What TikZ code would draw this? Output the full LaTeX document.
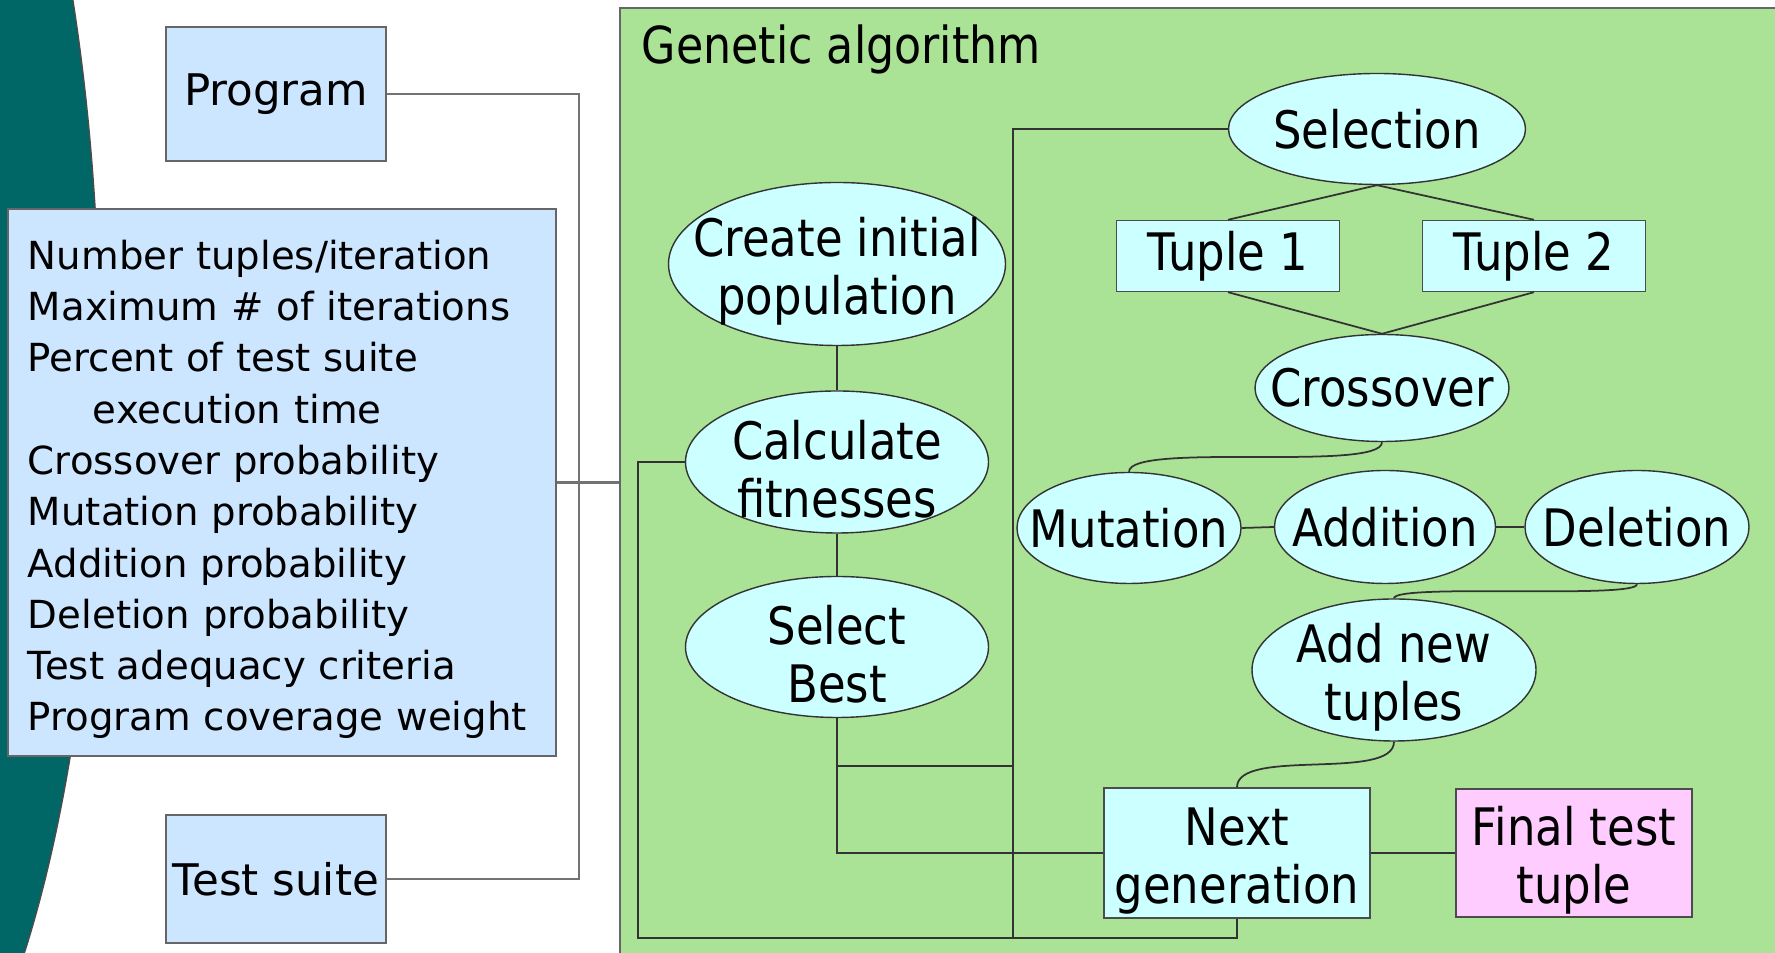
\documentclass[tikz,border=0pt]{standalone}
\usepackage{fontspec}
\setmainfont{DejaVu Sans}
\newfontfamily\condfont[FakeStretch=0.87]{DejaVu Sans}
\usetikzlibrary{shapes.geometric}

\definecolor{ocean}{RGB}{0,102,102}
\definecolor{meadow}{RGB}{170,227,150}
\definecolor{skyblue}{RGB}{204,230,255}
\definecolor{aqua}{RGB}{204,255,255}
\definecolor{blush}{RGB}{255,204,255}

\newcommand{\topgap}{\rule{0pt}{15.4pt}}

\tikzset{
  inputbox/.style={rectangle, draw=black!60, fill=skyblue, inner sep=0pt,
    font=\fontsize{12.4}{15}\selectfont},
  gabox/.style={rectangle, draw=black!60, fill=meadow, inner sep=0pt},
  stage/.style={ellipse, draw=black!80, fill=aqua, inner xsep=-10pt, inner ysep=-5pt,
    align=center, font=\condfont\fontsize{14.7}{16.5}\selectfont},
  stepbox/.style={rectangle, draw=black!70, fill=aqua, inner sep=0pt,
    align=center, font=\condfont\fontsize{14.7}{16.5}\selectfont},
  link/.style={draw=black!80, line width=0.5pt},
  feed/.style={draw=black!55, line width=0.6pt}
}

\begin{document}
\begin{tikzpicture}
  \useasboundingbox (0,0) rectangle (17.75,9.53);
  \clip (0,0) rectangle (17.75,9.53);

  %Background shape
  \filldraw[fill=ocean, draw=black!70, line width=0.4pt] (-1.40,5.83) ellipse [x radius=2.40, y radius=8.00];

  %Inputs
  \node[inputbox, minimum width=2.20cm, minimum height=1.34cm] (prog) at (2.76,8.59) {Program};
  \node[inputbox, minimum width=5.48cm, minimum height=5.47cm, text width=5.08cm,
        inner xsep=0.2cm, align=left, font=\fontsize{11.0}{14.6}\selectfont] (params) at (2.82,4.705) {
    \rule{0pt}{12.3pt}Number tuples/iteration\\
    Maximum \# of iterations\\
    Percent of test suite\\
    \hspace*{0.65cm}execution time\\
    Crossover probability\\
    Mutation probability\\
    Addition probability\\
    Deletion probability\\
    Test adequacy criteria\\
    Program coverage weight};
  \node[inputbox, minimum width=2.20cm, minimum height=1.28cm] (suite) at (2.76,0.74) {Test suite};

  %Genetic algorithm
  \node[gabox, minimum width=11.65cm, minimum height=9.55cm] (ga) at (12.025,4.675) {};
  \node[anchor=west, inner sep=0pt, font=\condfont\fontsize{14.5}{16}\selectfont] (gatitle) at (6.41,9.04) {Genetic algorithm};

  %Input wiring
  \coordinate (join) at (5.79,4.705);
  \draw[feed] (prog.east) -| (join);
  \draw[feed] (suite.east) -| (join);
  \draw[feed] (params.east) -- (params.east -| ga.west);

  %Left column
  \node[stage, minimum width=3.37cm, minimum height=1.63cm] (init) at (8.37,6.89) {\topgap Create initial\\population};
  \node[stage, minimum width=3.03cm, minimum height=1.42cm] (calc) at (8.37,4.91) {\topgap Calculate\\fitnesses};
  \node[stage, minimum width=3.03cm, minimum height=1.41cm] (best) at (8.37,3.06) {\topgap Select\\Best};

  %Right part
  \node[stage, minimum width=2.97cm, minimum height=1.11cm] (select) at (13.77,8.24) {Selection};
  \node[stepbox, minimum width=2.23cm, minimum height=0.71cm] (tup1) at (12.28,6.97) {Tuple 1};
  \node[stepbox, minimum width=2.23cm, minimum height=0.71cm] (tup2) at (15.34,6.97) {Tuple 2};
  \node[stage, minimum width=2.54cm, minimum height=1.07cm] (cross) at (13.82,5.65) {Crossover};
  \node[stage, minimum width=2.24cm, minimum height=1.11cm] (mut) at (11.29,4.25) {Mutation};
  \node[stage, minimum width=2.21cm, minimum height=1.13cm] (add) at (13.85,4.26) {Addition};
  \node[stage, minimum width=2.24cm, minimum height=1.13cm] (del) at (16.37,4.26) {Deletion};
  \node[stage, minimum width=2.84cm, minimum height=1.42cm] (addnew) at (13.94,2.83) {\topgap Add new\\tuples};
  \node[stepbox, minimum width=2.66cm, minimum height=1.30cm] (next) at (12.37,1.00) {\topgap Next\\generation};
  \node[stepbox, fill=blush, minimum width=2.36cm, minimum height=1.28cm] (final) at (15.74,1.00) {\topgap Final test\\tuple};

  %Connectors
  \coordinate (loopL) at (6.38,0.15);
  \coordinate (busB) at (10.13,0.15);
  \coordinate (busM) at (10.13,1.87);
  \draw[link] (init.south) -- (calc.north);
  \draw[link] (calc.south) -- (best.north);
  \draw[link] (calc.west) -| (loopL) -| (next.south);
  \draw[link] (select.west) -| (busB);
  \draw[link] (best.south) |- (busM);
  \draw[link] (best.south) |- (next.west);
  \draw[link] (select.south) -- (tup1.north);
  \draw[link] (select.south) -- (tup2.north);
  \draw[link] (tup1.south) -- (cross.north);
  \draw[link] (tup2.south) -- (cross.north);
  \draw[link] (cross.south) .. controls +(0,-0.3) and +(0,0.3) .. (mut.north);
  \draw[link] (mut.east) -- (add.west);
  \draw[link] (add.east) -- (del.west);
  \draw[link] (del.south) .. controls +(0,-0.15) and +(0,0.15) .. (addnew.north);
  \draw[link] (addnew.south) .. controls +(0,-0.4) and +(0,0.4) .. (next.north);
  \draw[link] (next.east) -- (final.west);
\end{tikzpicture}
\end{document}
